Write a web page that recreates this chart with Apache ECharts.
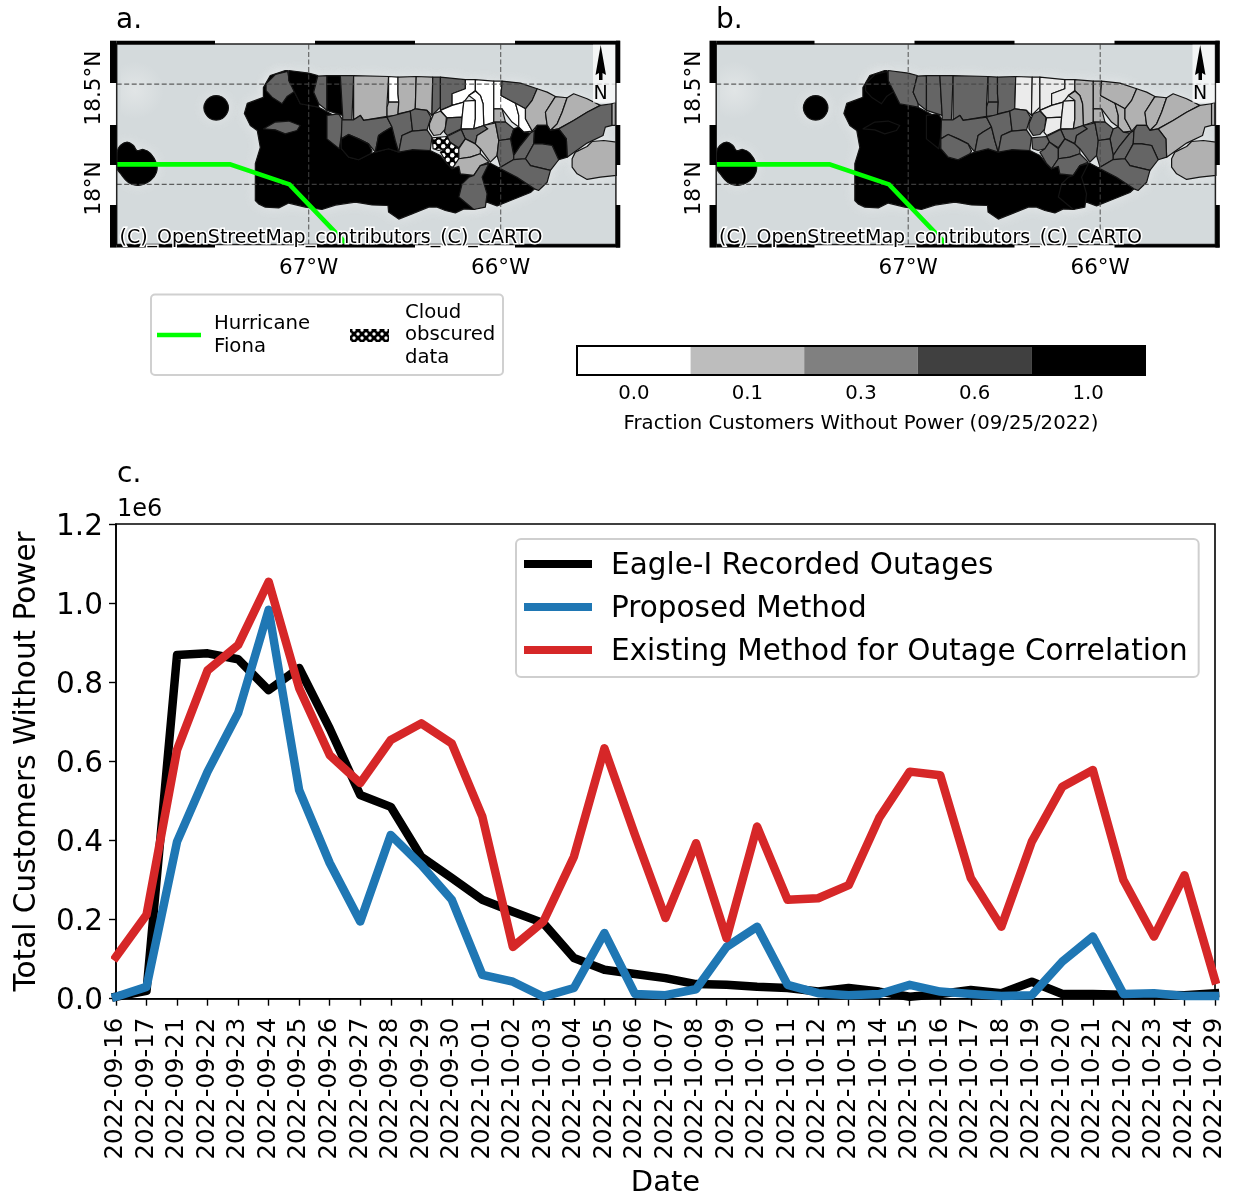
<!DOCTYPE html>
<html>
<head>
<meta charset="utf-8">
<style>html,body{margin:0;padding:0;background:#fff}#chart{width:1233px;height:1194px}</style>
<script src="https://cdn.jsdelivr.net/npm/echarts@6/dist/echarts.min.js"></script>
</head>
<body>
<div id="chart"></div>
<script>
// ---------- panel c data (customers without power) ----------
const dates = ['2022-09-16','2022-09-17','2022-09-21','2022-09-22','2022-09-23','2022-09-24','2022-09-25','2022-09-26','2022-09-27','2022-09-28','2022-09-29','2022-09-30','2022-10-01','2022-10-02','2022-10-03','2022-10-04','2022-10-05','2022-10-06','2022-10-07','2022-10-08','2022-10-09','2022-10-10','2022-10-11','2022-10-12','2022-10-13','2022-10-14','2022-10-15','2022-10-16','2022-10-17','2022-10-18','2022-10-19','2022-10-20','2022-10-21','2022-10-22','2022-10-23','2022-10-24','2022-10-29'];
const eagleOutages = [5000,20000,869000,873000,858000,780000,836000,683000,515000,485000,359000,305000,250000,220000,191000,103000,73000,62500,52000,37000,35000,30000,27000,18000,27000,18000,5000,12000,22000,14000,43000,12000,12000,10000,10000,9000,14000];
const proposedMethod = [5000,30000,397000,574000,722000,983000,527000,343000,195000,414000,338000,250000,60000,43000,5000,27000,166000,12000,9000,24000,131000,182000,35000,14000,9000,12000,35000,18000,12000,7000,9000,94000,157000,12000,14000,7000,7000];
const existingMethod = [106000,212000,629000,830000,894000,1054000,785000,616000,545000,654000,696000,645000,460000,131000,195000,359000,633000,414000,204000,393000,153000,435000,250000,254000,287000,457000,574000,565000,305000,182000,397000,536000,578000,300000,157000,312000,47000];

// ---------- panels a / b data: boundaries in lon/lat, one fraction per panel ----------
const colorbarLabels = ['0.0','0.1','0.3','0.6','1.0'];
const colorbarColors = ['#ffffff','#bdbdbd','#808080','#404040','#000000'];
const gridLons = [-67,-66];
const gridLats = [18,18.5];
const hurricaneTrack = [[-68,18.1],[-67.41,18.1],[-67.1,18.0],[-66.8,17.7]];
const seaHaze = [[-67.98,-67.73,18.28,18.7]];

// null = cloud obscured
const fractionA = [1,1,1, .4,.4,.4, 1,.4,1,.4,.15,0,.15,.15,.15,.4, .4,1,1,.4,.4,.4,.15,.4,0,0,0,.15,.4,0,.15,.15,.15,.4,.15,.15, 0,.4,0,0,.4,.4,null,null,.15,.15,.15,.4,1,.4,.4,1,.4,.4,.4];
const fractionB = [1,1,1, 1,1,1, .4,.4,.4,.4,.4,.4,.4,.4,.02,.02, .4,.4,.4,.4,.4,.4,.4,.02,.02,.15,.15,.15,.15,.15,.15,.15,.15,.15,.15,.15, .02,.02,.02,.15,.4,.4,.4,.4,.4,.4,.4,.4,.4,.4,.4,.4,.4,.4,1];
const boundaries = [
 // main black body, Desecheo, Mona
 [-67.122,18.568,-67.200,18.543,-67.236,18.483,-67.236,18.434,-67.320,18.404,-67.335,18.354,-67.304,18.294,-67.268,18.269,-67.252,18.184,-67.278,18.104,-67.278,17.920,-67.261,17.903,-67.226,17.887,-67.156,17.883,-67.104,17.907,-67.018,17.887,-66.931,17.875,-66.861,17.897,-66.757,17.912,-66.670,17.898,-66.587,17.895,-66.584,17.862,-66.531,17.827,-66.462,17.853,-66.375,17.887,-66.331,17.887,-66.288,17.870,-66.236,17.858,-66.192,17.878,-66.140,17.875,-66.071,17.912,-66.019,17.893,-65.949,17.920,-65.845,17.960,-65.824,17.978,-65.915,18.036,-66.010,18.083,-66.054,18.106,-66.106,18.094,-66.140,18.045,-66.210,18.053,-66.218,18.090,-66.253,18.078,-66.279,18.103,-66.314,18.144,-66.375,18.173,-66.462,18.178,-66.531,18.161,-66.584,18.178,-66.653,18.161,-66.679,18.153,-66.740,18.123,-66.792,18.136,-66.830,18.178,-66.830,18.244,-66.827,18.322,-66.948,18.385,-67.044,18.402,-67.104,18.518,-67.110,18.568],
 [-67.482,18.443,-67.450,18.435,-67.427,18.412,-67.418,18.382,-67.427,18.352,-67.450,18.329,-67.482,18.321,-67.514,18.329,-67.537,18.352,-67.546,18.382,-67.537,18.412,-67.514,18.435],
 [-67.998,18.161,-67.981,18.194,-67.946,18.211,-67.913,18.194,-67.894,18.169,-67.861,18.174,-67.824,18.155,-67.793,18.105,-67.793,18.060,-67.824,18.020,-67.887,17.995,-67.939,18.010,-67.981,18.055,-67.998,18.080],
 // west overlays
 [-67.222,18.502,-67.174,18.548,-67.110,18.563,-67.099,18.510,-67.066,18.468,-67.113,18.438,-67.139,18.402,-67.191,18.435,-67.222,18.468],
 [-67.235,18.277,-67.174,18.311,-67.104,18.316,-67.044,18.294,-67.061,18.269,-67.122,18.252,-67.174,18.272],
 [-66.905,18.344,-66.844,18.352,-66.823,18.322,-66.830,18.244,-66.841,18.178,-66.905,18.227],
 // north coast, west to east
 [-67.104,18.568,-67.000,18.555,-66.953,18.543,-66.974,18.460,-66.948,18.410,-66.948,18.385,-67.044,18.402,-67.104,18.518],
 [-66.953,18.540,-66.905,18.542,-66.905,18.369,-66.948,18.402,-66.974,18.460],
 [-66.905,18.542,-66.835,18.542,-66.823,18.344,-66.905,18.369],
 [-66.835,18.542,-66.766,18.542,-66.775,18.322,-66.823,18.322,-66.823,18.344],
 [-66.766,18.542,-66.584,18.538,-66.592,18.402,-66.592,18.339,-66.714,18.319,-66.731,18.344,-66.766,18.322],
 [-66.584,18.538,-66.535,18.535,-66.535,18.452,-66.531,18.410,-66.584,18.410],
 [-66.584,18.410,-66.531,18.410,-66.535,18.344,-66.592,18.339,-66.592,18.385],
 [-66.535,18.535,-66.440,18.538,-66.445,18.377,-66.471,18.365,-66.535,18.352,-66.531,18.410,-66.535,18.452],
 [-66.440,18.538,-66.354,18.535,-66.358,18.344,-66.384,18.369,-66.445,18.377],
 [-66.354,18.535,-66.314,18.535,-66.314,18.385,-66.358,18.344],
 // second row, west-centre
 [-66.827,18.322,-66.766,18.322,-66.731,18.344,-66.714,18.319,-66.592,18.335,-66.566,18.286,-66.610,18.261,-66.636,18.244,-66.653,18.161,-66.688,18.202,-66.740,18.227,-66.792,18.249,-66.830,18.227],
 [-66.830,18.227,-66.792,18.249,-66.740,18.227,-66.688,18.202,-66.670,18.166,-66.679,18.153,-66.740,18.123,-66.792,18.136,-66.830,18.178],
 [-66.636,18.244,-66.610,18.261,-66.566,18.286,-66.549,18.219,-66.531,18.161,-66.584,18.178,-66.653,18.161],
 [-66.592,18.335,-66.471,18.365,-66.459,18.269,-66.514,18.244,-66.531,18.161,-66.549,18.219,-66.566,18.286],
 [-66.471,18.365,-66.445,18.377,-66.384,18.369,-66.363,18.335,-66.384,18.272,-66.459,18.266],
 [-66.514,18.244,-66.459,18.266,-66.384,18.272,-66.358,18.236,-66.367,18.169,-66.462,18.173,-66.531,18.161],
 [-66.371,18.302,-66.349,18.352,-66.314,18.365,-66.283,18.335,-66.288,18.277,-66.314,18.249,-66.349,18.244,-66.371,18.277],
 // north-east coast
 [-66.314,18.535,-66.184,18.522,-66.184,18.477,-66.253,18.452,-66.253,18.394,-66.314,18.369],
 [-66.184,18.522,-66.132,18.522,-66.132,18.468,-66.166,18.443,-66.192,18.410,-66.253,18.394,-66.253,18.452,-66.184,18.477],
 [-66.132,18.522,-66.036,18.515,-66.036,18.377,-66.036,18.311,-66.088,18.294,-66.092,18.402,-66.106,18.443,-66.132,18.468],
 [-66.036,18.515,-65.993,18.515,-65.998,18.443,-65.923,18.405,-65.906,18.344,-65.906,18.286,-65.941,18.311,-65.993,18.377,-66.036,18.377],
 [-66.036,18.377,-65.993,18.377,-65.975,18.311,-66.036,18.311],
 [-65.993,18.515,-65.897,18.505,-65.810,18.477,-65.836,18.419,-65.871,18.377,-65.923,18.405,-65.998,18.443],
 [-65.923,18.405,-65.871,18.377,-65.871,18.327,-65.836,18.266,-65.880,18.261,-65.906,18.286,-65.906,18.344],
 [-65.810,18.477,-65.758,18.460,-65.715,18.438,-65.767,18.360,-65.758,18.294,-65.810,18.294,-65.836,18.266,-65.871,18.327,-65.871,18.377,-65.836,18.419],
 [-65.715,18.438,-65.654,18.432,-65.680,18.360,-65.706,18.302,-65.741,18.269,-65.758,18.294,-65.767,18.360],
 [-65.654,18.432,-65.620,18.452,-65.550,18.427,-65.481,18.394,-65.550,18.360,-65.620,18.319,-65.698,18.277,-65.741,18.269,-65.706,18.302,-65.680,18.360],
 [-65.481,18.394,-65.420,18.402,-65.420,18.294,-65.455,18.286,-65.467,18.244,-65.550,18.206,-65.654,18.136,-65.658,18.227,-65.698,18.277,-65.620,18.319,-65.550,18.360],
 [-65.420,18.402,-65.403,18.410,-65.403,18.294,-65.420,18.294],
 [-65.628,18.128,-65.611,18.161,-65.550,18.189,-65.524,18.214,-65.463,18.219,-65.397,18.211,-65.397,18.045,-65.481,18.036,-65.550,18.025,-65.602,18.053,-65.628,18.086],
 // interior north
 [-66.314,18.369,-66.253,18.394,-66.192,18.410,-66.201,18.335,-66.279,18.332],
 [-66.279,18.332,-66.201,18.335,-66.206,18.277,-66.279,18.244,-66.293,18.261],
 [-66.192,18.415,-66.132,18.419,-66.132,18.327,-66.140,18.277,-66.206,18.277,-66.201,18.335],
 [-66.166,18.443,-66.132,18.465,-66.106,18.443,-66.092,18.402,-66.088,18.294,-66.140,18.277,-66.132,18.327,-66.132,18.419],
 // interior centre and south-east
 [-66.206,18.274,-66.140,18.277,-66.088,18.294,-66.067,18.277,-66.123,18.244,-66.132,18.202,-66.184,18.227],
 [-66.279,18.239,-66.206,18.274,-66.184,18.227,-66.218,18.183,-66.265,18.211],
 [-66.357,18.232,-66.279,18.239,-66.265,18.211,-66.288,18.178,-66.323,18.169,-66.352,18.178],
 [-66.314,18.161,-66.288,18.178,-66.265,18.211,-66.218,18.178,-66.218,18.128,-66.253,18.078,-66.279,18.103],
 [-66.218,18.178,-66.184,18.227,-66.132,18.202,-66.106,18.178,-66.106,18.153,-66.158,18.136,-66.218,18.128],
 [-66.218,18.128,-66.158,18.136,-66.106,18.153,-66.062,18.111,-66.106,18.094,-66.140,18.045,-66.210,18.053,-66.218,18.090,-66.253,18.078],
 [-66.088,18.294,-66.027,18.306,-66.010,18.219,-66.019,18.144,-66.054,18.111,-66.106,18.178,-66.132,18.202,-66.123,18.244,-66.067,18.277],
 [-66.036,18.311,-65.975,18.311,-65.932,18.277,-65.949,18.227,-66.010,18.219,-66.027,18.306],
 [-65.949,18.227,-65.932,18.277,-65.906,18.286,-65.880,18.261,-65.845,18.256,-65.897,18.194,-65.932,18.144],
 [-66.010,18.219,-65.949,18.227,-65.932,18.144,-65.932,18.124,-66.001,18.086,-66.019,18.144],
 [-65.845,18.256,-65.824,18.269,-65.828,18.202,-65.871,18.128,-65.932,18.124,-65.932,18.144,-65.897,18.194],
 [-65.824,18.269,-65.810,18.294,-65.758,18.294,-65.741,18.269,-65.698,18.277,-65.658,18.227,-65.654,18.136,-65.698,18.123,-65.732,18.194,-65.784,18.202,-65.828,18.202],
 [-65.828,18.202,-65.784,18.202,-65.732,18.194,-65.698,18.123,-65.741,18.070,-65.845,18.094,-65.871,18.128],
 [-66.001,18.086,-65.932,18.124,-65.871,18.128,-65.845,18.094,-65.741,18.070,-65.758,18.011,-65.802,17.970,-65.824,17.978,-65.915,18.036,-66.010,18.083],
 // south coast overlay
 [-66.201,18.003,-66.166,18.036,-66.140,18.045,-66.106,18.094,-66.062,18.103,-66.097,18.036,-66.071,17.953,-66.080,17.887,-66.140,17.875,-66.218,17.937]
];

// ---------- styling ----------
const FONT = '"DejaVu Sans"';
const SHADES = {0:'#ffffff','0.02':'#ebebeb','0.15':'#b1b1b1','0.4':'#656565',1:'#000000'};

function makeHatch(tile, r){
  const c = document.createElement('canvas'); c.width = c.height = tile;
  const g = c.getContext('2d');
  g.fillStyle = '#000'; g.fillRect(0,0,tile,tile);
  g.fillStyle = '#fff';
  [[tile/4,tile/4],[3*tile/4,3*tile/4]].forEach(p=>{g.beginPath();g.arc(p[0],p[1],r,0,7);g.fill();});
  return {image:c, repeat:'repeat'};
}
const hatchMap = makeHatch(9,2.2), hatchKey = makeHatch(8,1.7);

function ringPoints(api, ring){
  const pts = [];
  for(let i=0;i<ring.length;i+=2) pts.push(api.coord([ring[i],ring[i+1]]));
  return pts;
}
function cellSeries(name, gridIdx, fractions){
  return {
    name, type:'custom', xAxisIndex:gridIdx, yAxisIndex:gridIdx, coordinateSystem:'cartesian2d', clip:true, z:3, silent:true,
    data: fractions.map((f,i)=>[boundaries[i][0],boundaries[i][1],f===null?-1:f]),
    renderItem(params, api){
      const f = fractions[params.dataIndex];
      return {type:'polygon', shape:{points:ringPoints(api,boundaries[params.dataIndex]), smooth: params.dataIndex===1||params.dataIndex===2 ? 0.4 : 0},
        style:{fill: f===null ? hatchMap : SHADES[f], stroke:'#141414', lineWidth:1.2, lineJoin:'round'}};
    }
  };
}
function hazeSeries(gridIdx){
  return {type:'custom', xAxisIndex:gridIdx, yAxisIndex:gridIdx, clip:true, z:2, silent:true, data:seaHaze,
    renderItem(params, api){
      const d = seaHaze[params.dataIndex], a = api.coord([d[0],d[3]]), b = api.coord([d[1],d[2]]);
      return {type:'rect', shape:{x:a[0],y:a[1],width:b[0]-a[0],height:b[1]-a[1]},
        style:{fill:{type:'radial',x:0.3,y:0.55,r:0.6,colorStops:[{offset:0,color:'rgba(238,240,240,0.5)'},{offset:1,color:'rgba(238,240,240,0)'}]}}};
    }};
}
function coastGlowSeries(gridIdx){
  return {type:'custom', xAxisIndex:gridIdx, yAxisIndex:gridIdx, clip:true, z:2, silent:true,
    data: boundaries.map(r=>[r[0],r[1]]),
    renderItem(params, api){
      return {type:'polygon', shape:{points:ringPoints(api,boundaries[params.dataIndex])},
        style:{fill:'#dde1e2', shadowBlur:14, shadowColor:'rgba(245,246,246,0.55)'}};
    }};
}
function graticuleSeries(gridIdx){
  const lines = gridLons.map(v=>[v,17.7,v,18.7]).concat(gridLats.map(v=>[-68,v,-65.4,v]));
  return {type:'custom', xAxisIndex:gridIdx, yAxisIndex:gridIdx, clip:true, z:4, silent:true, data:lines,
    renderItem(params, api){
      const l = lines[params.dataIndex], a = api.coord([l[0],l[1]]), b = api.coord([l[2],l[3]]);
      return {type:'line', shape:{x1:a[0],y1:a[1],x2:b[0],y2:b[1]}, style:{stroke:'rgba(70,70,70,0.85)', lineWidth:1.1, lineDash:[5,2.5]}};
    }};
}
function trackSeries(gridIdx){
  return {name:'Hurricane Fiona', type:'line', xAxisIndex:gridIdx, yAxisIndex:gridIdx, data:hurricaneTrack, showSymbol:false, z:5, silent:true, clip:true,
    lineStyle:{color:'#00ff00', width:4.6, join:'miter'}};
}
function frameGraphics(dx){
  const out = [];
  const L=116.7+dx, R=615.9+dx, T=44, B=244.6;
  const bar = (x,y,w,h)=>out.push({type:'rect', z:20, shape:{x,y,width:w,height:h}, style:{fill:'#000'}, silent:true});
  out.push({type:'rect', z:19, shape:{x:L,y:T,width:R-L,height:B-T}, style:{fill:'none',stroke:'#222',lineWidth:1.5}, silent:true});
  [[L,215+dx],[315+dx,415+dx],[515+dx,R+4]].forEach(s=>{ bar(s[0],40.7,s[1]-s[0],3.5); bar(s[0],B,s[1]-s[0],3); });
  [[40.7,83],[125,165],[205,247.6]].forEach(s=>{ bar(L-6.7,s[0],6.7,s[1]-s[0]); bar(R,s[0],4.4,s[1]-s[0]); });
  // north arrow
  out.push({type:'rect', z:21, shape:{x:593+dx,y:44.8,width:22.2,height:58}, style:{fill:'rgba(255,255,255,0.72)'}, silent:true});
  out.push({type:'polygon', z:22, shape:{points:[[600.7+dx,45],[606+dx,75],[602.5+dx,73],[602.5+dx,80],[599+dx,80],[599+dx,73],[595.5+dx,75]]}, style:{fill:'#000'}, silent:true});
  out.push({type:'text', z:22, style:{text:'N',x:600.7+dx,y:94,fill:'#000',font:'19px '+FONT,align:'center',verticalAlign:'middle'}, silent:true});
  out.push({type:'text', z:23, style:{text:'(C)_OpenStreetMap_contributors_(C)_CARTO',x:119.5+dx,y:238,fill:'#000',stroke:'#fff',lineWidth:3,font:'19px '+FONT,align:'left',verticalAlign:'middle'}, silent:true});
  return out;
}
function lonAxis(i){
  return {gridIndex:i, type:'value', min:-68, max:-65.4, splitLine:{show:false}, axisLine:{show:false}, axisTick:{show:false},
    axisLabel:{customValues:gridLons, formatter:v=>Math.abs(v)+'°W', fontFamily:FONT, fontSize:21.5, color:'#000', margin:13}};
}
function latAxis(i){
  return {gridIndex:i, type:'value', min:17.7, max:18.7, splitLine:{show:false}, axisLine:{show:false}, axisTick:{show:false},
    axisLabel:{customValues:gridLats, formatter:v=>v+'°N', fontFamily:FONT, fontSize:21.5, color:'#000', rotate:90, margin:11, padding:[0,8,0,0]}};
}
const label = (text,x,y,size)=>({type:'text', z:30, silent:true, style:{text,x,y,fill:'#000',font:size+'px '+FONT,align:'left',verticalAlign:'middle'}});

const chart = echarts.init(document.getElementById('chart'), null, {renderer:'canvas'});
chart.setOption({
  animation:false,
  backgroundColor:'#fff',
  textStyle:{fontFamily:FONT},
  grid:[
    {left:116.7, top:44, width:499.2, height:200.6, show:true, backgroundColor:'#d4dadc', borderWidth:0, outerBoundsMode:'none'},
    {left:716.2, top:44, width:499.2, height:200.6, show:true, backgroundColor:'#d4dadc', borderWidth:0, outerBoundsMode:'none'},
    {left:577, top:346, width:568, height:29, show:false, outerBoundsMode:'none'},
    {left:116, top:524, width:1099, height:474.7, show:true, borderColor:'#000', borderWidth:1.6, backgroundColor:'#fff', outerBoundsMode:'none'}
  ],
  xAxis:[
    lonAxis(0), lonAxis(1),
    {gridIndex:2, type:'category', data:colorbarLabels, axisLine:{show:false}, axisTick:{show:false},
     axisLabel:{fontFamily:FONT, fontSize:19.7, color:'#000', margin:9, interval:0},
     name:'Fraction Customers Without Power (09/25/2022)', nameLocation:'middle', nameGap:39, nameTextStyle:{fontFamily:FONT, fontSize:19.7, color:'#000'}},
    {gridIndex:3, type:'category', data:dates, boundaryGap:false,
     axisLine:{lineStyle:{color:'#000',width:1.6}}, axisTick:{length:7, alignWithLabel:true, interval:0, lineStyle:{color:'#000',width:1.4}},
     axisLabel:{interval:0, rotate:90, fontFamily:FONT, fontSize:24.4, color:'#000', margin:19},
     name:'Date', nameLocation:'middle', nameGap:170, nameTextStyle:{fontFamily:FONT, fontSize:29, color:'#000'}}
  ],
  yAxis:[
    latAxis(0), latAxis(1),
    {gridIndex:2, type:'value', min:0, max:1, show:false},
    {gridIndex:3, type:'value', min:0, max:1200000, interval:200000, splitLine:{show:false},
     axisLine:{show:true, lineStyle:{color:'#000',width:1.6}}, axisTick:{show:true, length:7, lineStyle:{color:'#000',width:1.4}},
     axisLabel:{formatter:v=>'{t|'+(v/1e6).toFixed(1)+'}', margin:13,
       rich:{t:{fontFamily:FONT, fontSize:29.5, color:'#000', padding:[6,0,0,0]}}},
     name:'Total Customers Without Power', nameLocation:'middle', nameGap:74, nameTextStyle:{fontFamily:FONT, fontSize:29.5, color:'#000'}}
  ],
  legend:{
    data:['Eagle-I Recorded Outages','Proposed Method','Existing Method for Outage Correlation'],
    orient:'vertical', left:516, top:539, padding:[12,11,10,8], itemGap:13, itemWidth:68, itemHeight:8, icon:'rect',
    formatter:n=>'{t|'+n+'}',
    textStyle:{rich:{t:{fontFamily:FONT, fontSize:29.5, color:'#000', padding:[4,0,0,14]}}},
    backgroundColor:'rgba(255,255,255,0.85)', borderColor:'#cfcfcf', borderWidth:2, borderRadius:5, selectedMode:false
  },
  series:[
    hazeSeries(0), coastGlowSeries(0), cellSeries('Fraction without power, panel a',0,fractionA), graticuleSeries(0), trackSeries(0),
    hazeSeries(1), coastGlowSeries(1), cellSeries('Fraction without power, panel b',1,fractionB), graticuleSeries(1), trackSeries(1),
    {name:'Fraction scale', type:'bar', xAxisIndex:2, yAxisIndex:2, barWidth:'100%', silent:true,
     data:colorbarColors.map(c=>({value:1,itemStyle:{color:c}}))},
    {name:'Eagle-I Recorded Outages', type:'line', xAxisIndex:3, yAxisIndex:3, data:eagleOutages, showSymbol:false, z:3, lineStyle:{color:'#000000',width:8.5,join:'round',cap:'square'}, itemStyle:{color:'#000000'}},
    {name:'Proposed Method', type:'line', xAxisIndex:3, yAxisIndex:3, data:proposedMethod, showSymbol:false, z:4, lineStyle:{color:'#1f77b4',width:8.5,join:'round',cap:'square'}, itemStyle:{color:'#1f77b4'}},
    {name:'Existing Method for Outage Correlation', type:'line', xAxisIndex:3, yAxisIndex:3, data:existingMethod, showSymbol:false, z:5, lineStyle:{color:'#d62728',width:8.5,join:'round',cap:'square'}, itemStyle:{color:'#d62728'}}
  ],
  graphic:{elements:[
    ...frameGraphics(0), ...frameGraphics(599.5),
    label('a.',116,21,28), label('b.',716,21,28), label('c.',117,475,28), label('1e6',117,510,24),
    // map key
    {type:'rect', z:30, silent:true, shape:{x:151,y:294.5,width:352,height:80.5,r:4}, style:{fill:'#fff',stroke:'#d0d0d0',lineWidth:2}},
    {type:'line', z:31, silent:true, shape:{x1:157,y1:335,x2:201,y2:335}, style:{stroke:'#00ff00',lineWidth:4.6}},
    label('Hurricane',214,324,19.7), label('Fiona',214,347,19.7),
    {type:'rect', z:31, silent:true, shape:{x:350,y:329,width:39,height:13}, style:{fill:hatchKey}},
    label('Cloud',405,312.5,19.7), label('obscured',405,335,19.7), label('data',405,358,19.7),
    // colour bar outline
    {type:'rect', z:31, silent:true, shape:{x:577,y:346,width:568,height:29}, style:{fill:'none',stroke:'#000',lineWidth:2}}
  ]}
});
</script>
</body>
</html>
